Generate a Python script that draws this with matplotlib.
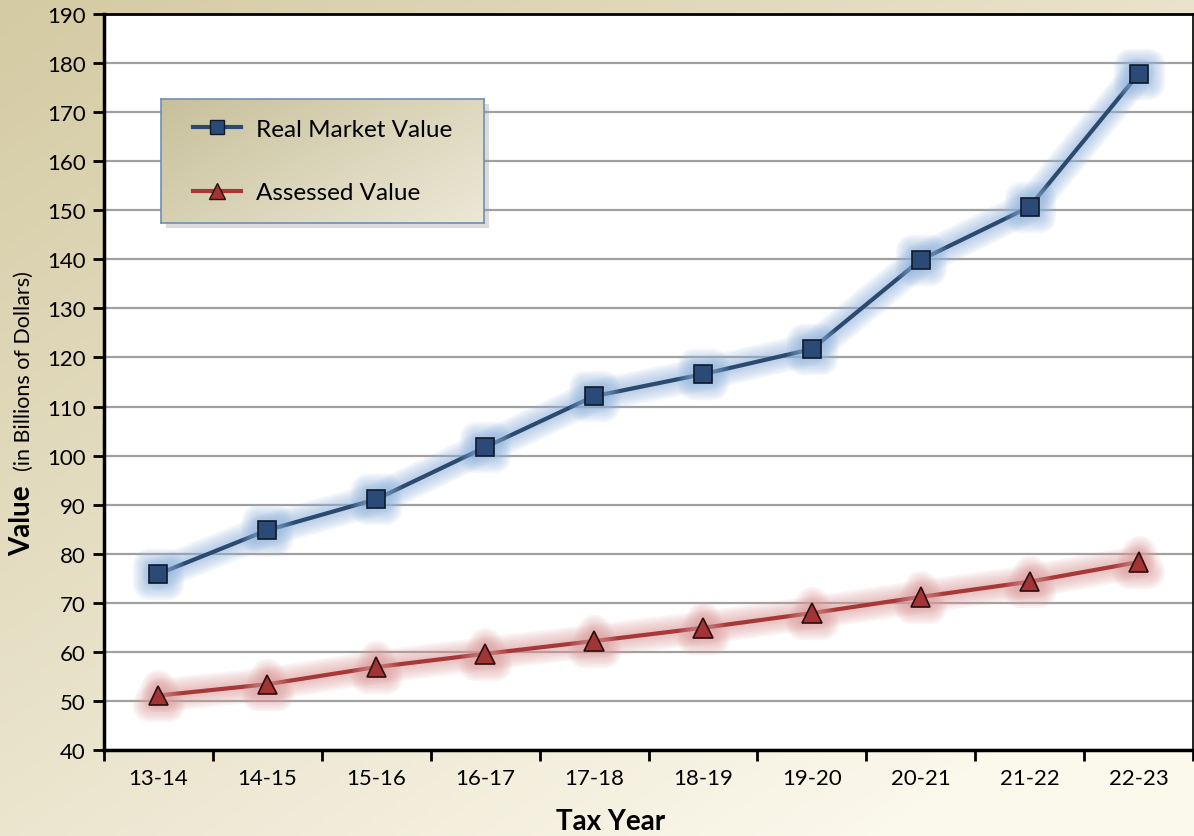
import matplotlib
matplotlib.use('Agg')
import matplotlib.pyplot as plt
import numpy as np
import matplotlib.patheffects as pe
from matplotlib.lines import Line2D

plt.rcParams['font.family'] = ['Lato', 'DejaVu Sans']

years = ['13-14', '14-15', '15-16', '16-17', '17-18', '18-19', '19-20', '20-21', '21-22', '22-23']
real_market = [75.9, 84.8, 91.1, 101.7, 112.1, 116.6, 121.7, 139.9, 150.7, 177.8]
assessed = [51.1, 53.4, 56.9, 59.6, 62.2, 64.9, 67.9, 71.2, 74.3, 78.3]

blue = '#2b4a70'
blue_marker = '#2a4a78'
blue_glow = '#8fb3dd'
red = '#a73838'
red_marker = '#a33434'
red_glow = '#dc9a9a'

fig = plt.figure(figsize=(11.94, 8.37), dpi=100)

# beige gradient background
bg = fig.add_axes([0, 0, 1, 1], zorder=-10)
gx, gy = np.meshgrid(np.linspace(0, 1, 300), np.linspace(0, 1, 210))
t = np.clip(0.55 * gx + 0.6 * gy, 0, 1)
c0 = np.array([212, 202, 163]) / 255.
c1 = np.array([251, 248, 236]) / 255.
img = c0[None, None, :] * (1 - t[..., None]) + c1[None, None, :] * t[..., None]
bg.imshow(img, aspect='auto', extent=[0, 1, 0, 1], origin='upper')
bg.axis('off')

ax = fig.add_axes([104 / 1194, 1 - 751 / 837, 1089 / 1194, 736 / 837])
ax.set_facecolor('white')

x = np.arange(len(years))

def glow(c):
    fx = []
    for w in [24, 21, 18, 15, 12, 9, 6]:
        fx.append(pe.Stroke(linewidth=w, foreground=c, alpha=0.11,
                            joinstyle='round', capstyle='round'))
    fx.append(pe.Normal())
    return fx

ax.plot(x, real_market, color=blue, lw=3, marker='s', markersize=13,
        markerfacecolor=blue_marker, markeredgecolor='#111a28', markeredgewidth=1.2,
        path_effects=glow(blue_glow), zorder=4)
ax.plot(x, assessed, color=red, lw=3, marker='^', markersize=14,
        markerfacecolor=red_marker, markeredgecolor='#2a0e0e', markeredgewidth=1.2,
        path_effects=glow(red_glow), zorder=4)

ax.set_xlim(-0.5, 9.5)
ax.set_ylim(40, 190)
ax.set_yticks(np.arange(40, 191, 10))
ax.set_xticks(x)
ax.set_xticklabels(years)
ax.set_xticks(np.arange(-0.5, 9.6, 1), minor=True)
ax.tick_params(axis='x', which='major', length=0, pad=13, labelsize=16)
ax.tick_params(axis='x', which='minor', length=8, width=2, direction='out', color='black')
ax.tick_params(axis='y', which='major', length=8, width=2, direction='out', labelsize=16, pad=5)
ax.yaxis.grid(True, color='#a0a0a0', lw=1.6)
ax.set_axisbelow(True)
for s in ['left', 'bottom']:
    ax.spines[s].set_linewidth(2.5)
ax.spines['top'].set_linewidth(2)
ax.spines['right'].set_linewidth(1.2)

fig.text(611 / 1194, 1 - 822 / 837, 'Tax Year', ha='center', va='center',
         fontsize=20, fontweight='bold')
fig.text(22 / 1194, 1 - 521 / 837, 'Value', rotation=90, ha='center', va='center',
         fontsize=20, fontweight='bold')
fig.text(24 / 1194, 1 - 371 / 837, '(in Billions of Dollars)', rotation=90,
         ha='center', va='center', fontsize=15.5)

# legend box with gradient and shadow
lx0, lx1 = 161 / 1194, 484 / 1194
ly0, ly1 = 1 - 224 / 837, 1 - 100 / 837
shadow = fig.add_axes([lx0 + 0.004, ly0 - 0.006, lx1 - lx0, ly1 - ly0], zorder=5)
shadow.set_facecolor('#9a9a9a')
shadow.patch.set_alpha(0.35)
shadow.set_xticks([]); shadow.set_yticks([])
for s in shadow.spines.values():
    s.set_visible(False)
lg = fig.add_axes([lx0, ly0, lx1 - lx0, ly1 - ly0], zorder=6)
lt = np.clip(0.6 * gx + 0.4 * gy, 0, 1)
lc0 = np.array([200, 192, 155]) / 255.
lc1 = np.array([236, 232, 214]) / 255.
limg = lc0[None, None, :] * (1 - lt[..., None]) + lc1[None, None, :] * lt[..., None]
lg.imshow(limg, aspect='auto', extent=[0, 1, 0, 1], origin='upper')
lg.set_xlim(0, 1); lg.set_ylim(0, 1)
lg.set_xticks([]); lg.set_yticks([])
for s in lg.spines.values():
    s.set_color('#6f8fb8')
    s.set_linewidth(1.2)

handles = [Line2D([], [], color=blue, lw=3, marker='s', markersize=10,
                  markerfacecolor=blue_marker, markeredgecolor='#111a28'),
           Line2D([], [], color=red, lw=3, marker='^', markersize=11,
                  markerfacecolor=red_marker, markeredgecolor='#2a0e0e')]
lg.legend(handles, ['Real Market Value', 'Assessed Value'], loc='center left',
          bbox_to_anchor=(0.03, 0.5), frameon=False, fontsize=17.5,
          handlelength=2.0, labelspacing=1.75, handletextpad=0.6)

fig.savefig('out.png', dpi=100)
